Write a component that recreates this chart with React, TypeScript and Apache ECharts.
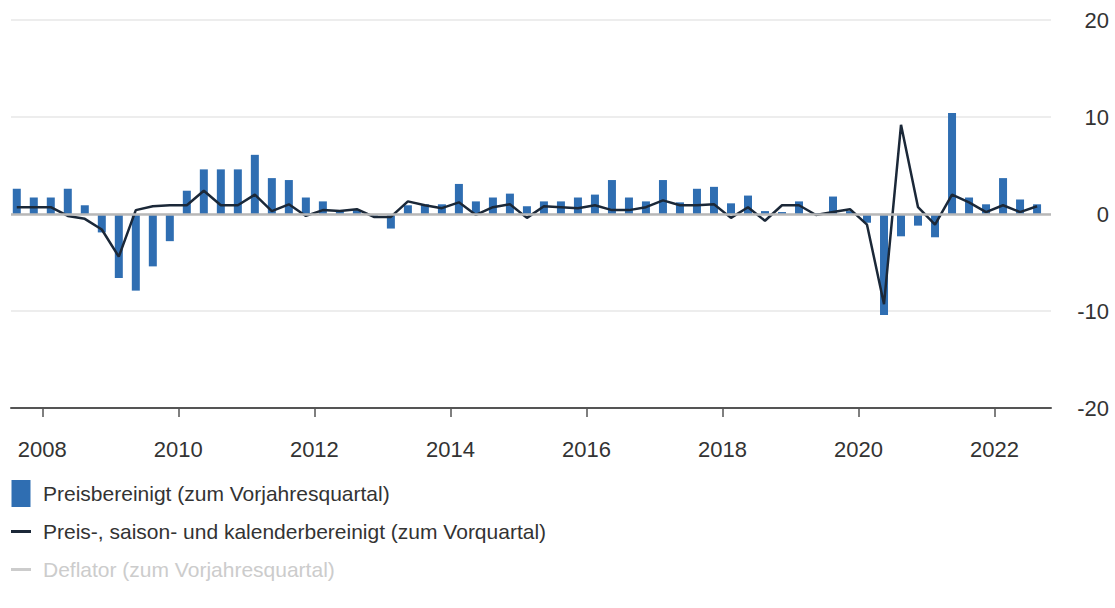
import React, { useEffect, useRef } from 'react';
import * as echarts from 'echarts';

const quarters = [
  '2007-Q3', '2007-Q4',
  '2008-Q1', '2008-Q2', '2008-Q3', '2008-Q4',
  '2009-Q1', '2009-Q2', '2009-Q3', '2009-Q4',
  '2010-Q1', '2010-Q2', '2010-Q3', '2010-Q4',
  '2011-Q1', '2011-Q2', '2011-Q3', '2011-Q4',
  '2012-Q1', '2012-Q2', '2012-Q3', '2012-Q4',
  '2013-Q1', '2013-Q2', '2013-Q3', '2013-Q4',
  '2014-Q1', '2014-Q2', '2014-Q3', '2014-Q4',
  '2015-Q1', '2015-Q2', '2015-Q3', '2015-Q4',
  '2016-Q1', '2016-Q2', '2016-Q3', '2016-Q4',
  '2017-Q1', '2017-Q2', '2017-Q3', '2017-Q4',
  '2018-Q1', '2018-Q2', '2018-Q3', '2018-Q4',
  '2019-Q1', '2019-Q2', '2019-Q3', '2019-Q4',
  '2020-Q1', '2020-Q2', '2020-Q3', '2020-Q4',
  '2021-Q1', '2021-Q2', '2021-Q3', '2021-Q4',
  '2022-Q1', '2022-Q2', '2022-Q3',
];

// Preisbereinigt (zum Vorjahresquartal), %
const yoyValues = [
  2.6, 1.7,
  1.7, 2.6, 0.9, -1.9,
  -6.6, -7.9, -5.4, -2.8,
  2.4, 4.6, 4.6, 4.6,
  6.1, 3.7, 3.5, 1.7,
  1.3, 0.3, 0.4, -0.2,
  -1.5, 0.9, 1.0, 1.0,
  3.1, 1.3, 1.7, 2.1,
  0.8, 1.3, 1.3, 1.7,
  2.0, 3.5, 1.7, 1.3,
  3.5, 1.2, 2.6, 2.8,
  1.1, 1.9, 0.3, 0.2,
  1.3, 0.1, 1.8, 0.3,
  -0.9, -10.4, -2.3, -1.2,
  -2.4, 10.4, 1.7, 1.0,
  3.7, 1.5, 1.0,
];

// Preis-, saison- und kalenderbereinigt (zum Vorquartal), %
const qoqValues = [
  0.7, 0.7,
  0.7, -0.2, -0.5, -1.6,
  -4.4, 0.4, 0.8, 0.9,
  0.9, 2.4, 0.9, 0.9,
  2.0, 0.3, 1.0, -0.2,
  0.4, 0.3, 0.5, -0.3,
  -0.3, 1.3, 0.9, 0.6,
  1.2, -0.1, 0.7, 1.0,
  -0.4, 0.8, 0.7, 0.6,
  0.9, 0.4, 0.4, 0.7,
  1.4, 0.9, 0.9, 1.0,
  -0.4, 0.7, -0.7, 0.9,
  0.9, -0.1, 0.2, 0.5,
  -1.1, -9.3, 9.2, 0.7,
  -1.1, 2.0, 1.2, 0.2,
  0.9, 0.2, 0.8,
];

// Deflator series is switched off in the legend (no visible values)
const deflatorValues: number[] = [];

const yearTicks = [2008, 2010, 2012, 2014, 2016, 2018, 2020, 2022];

const seriesNames = [
  'Preisbereinigt (zum Vorjahresquartal)',
  'Preis-, saison- und kalenderbereinigt (zum Vorquartal)',
  'Deflator (zum Vorjahresquartal)',
];

// position of a quarter on the year scale (middle of the quarter)
const quarterPos = (q: string) => {
  const [y, n] = q.split('-Q');
  return Number(y) + (Number(n) - 0.5) / 4;
};

const FONT = '"Liberation Sans", Arial, sans-serif';

export default function App() {
  const ref = useRef<HTMLDivElement>(null);

  useEffect(() => {
    if (!ref.current) return;
    const chart = echarts.init(ref.current, null, { renderer: 'svg' });

    const barData = quarters.map((q, i) => [quarterPos(q), yoyValues[i]]);
    const lineData = quarters.map((q, i) => [quarterPos(q), qoqValues[i]]);

    chart.setOption({
      animation: false,
      backgroundColor: '#ffffff',
      grid: { left: 11, right: 64, top: 20, bottom: 200, containLabel: false },
      xAxis: {
        type: 'value',
        min: 2007.54,
        max: 2022.83,
        axisLine: { show: true, onZero: false, lineStyle: { color: '#555555', width: 2 } },
        axisTick: {
          show: true,
          customValues: yearTicks,
          length: 9,
          lineStyle: { color: '#555555', width: 1.5 },
        },
        axisLabel: {
          customValues: yearTicks,
          fontFamily: FONT,
          fontSize: 22,
          color: '#333333',
          margin: 30,
          formatter: (v: number) => String(v),
        },
        splitLine: { show: false },
      },
      yAxis: {
        type: 'value',
        position: 'right',
        min: -20,
        max: 20,
        interval: 10,
        axisLine: { show: false },
        axisTick: { show: false },
        axisLabel: {
          align: 'right',
          margin: 58,
          fontFamily: FONT,
          fontSize: 22,
          color: '#333333',
        },
        splitLine: { show: true, lineStyle: { color: '#ededed', width: 2 } },
      },
      legend: {
        orient: 'vertical',
        left: 11,
        top: 479,
        padding: 0,
        itemWidth: 20,
        itemHeight: 27,
        itemGap: 9,
        inactiveColor: '#cccccc',
        textStyle: {
          fontFamily: FONT,
          fontSize: 21,
          color: '#333333',
          lineHeight: 29,
          padding: [0, 0, 0, 7],
        },
        selected: { [seriesNames[2]]: false },
        data: [
          { name: seriesNames[0], icon: 'path://M0,0H19V27H0Z' },
          { name: seriesNames[1], icon: 'path://M0,0H20V3H0Z' },
          { name: seriesNames[2], icon: 'path://M0,0H20V3H0Z' },
        ],
      },
      series: [
        {
          name: seriesNames[0],
          type: 'bar',
          data: barData,
          barWidth: 8,
          itemStyle: { color: '#2f6eb2' },
          z: 2,
          markLine: {
            silent: true,
            symbol: 'none',
            label: { show: false },
            lineStyle: { color: '#b8b8b8', width: 2.5, type: 'solid' },
            data: [{ yAxis: 0 }],
          },
        },
        {
          name: seriesNames[1],
          type: 'line',
          data: lineData,
          showSymbol: false,
          symbol: 'none',
          itemStyle: { color: '#1b2838' },
          lineStyle: { color: '#1b2838', width: 2.5 },
          z: 4,
        },
        {
          name: seriesNames[2],
          type: 'line',
          data: deflatorValues,
          showSymbol: false,
          symbol: 'none',
          itemStyle: { color: '#aaaaaa' },
          lineStyle: { color: '#aaaaaa', width: 2.5 },
          z: 3,
        },
      ],
    });

    return () => {
      chart.dispose();
    };
  }, []);

  return (
    <div
      ref={ref}
      style={{ position: 'fixed', left: 0, top: 0, width: 1115, height: 608, background: '#fff' }}
    />
  );
}
